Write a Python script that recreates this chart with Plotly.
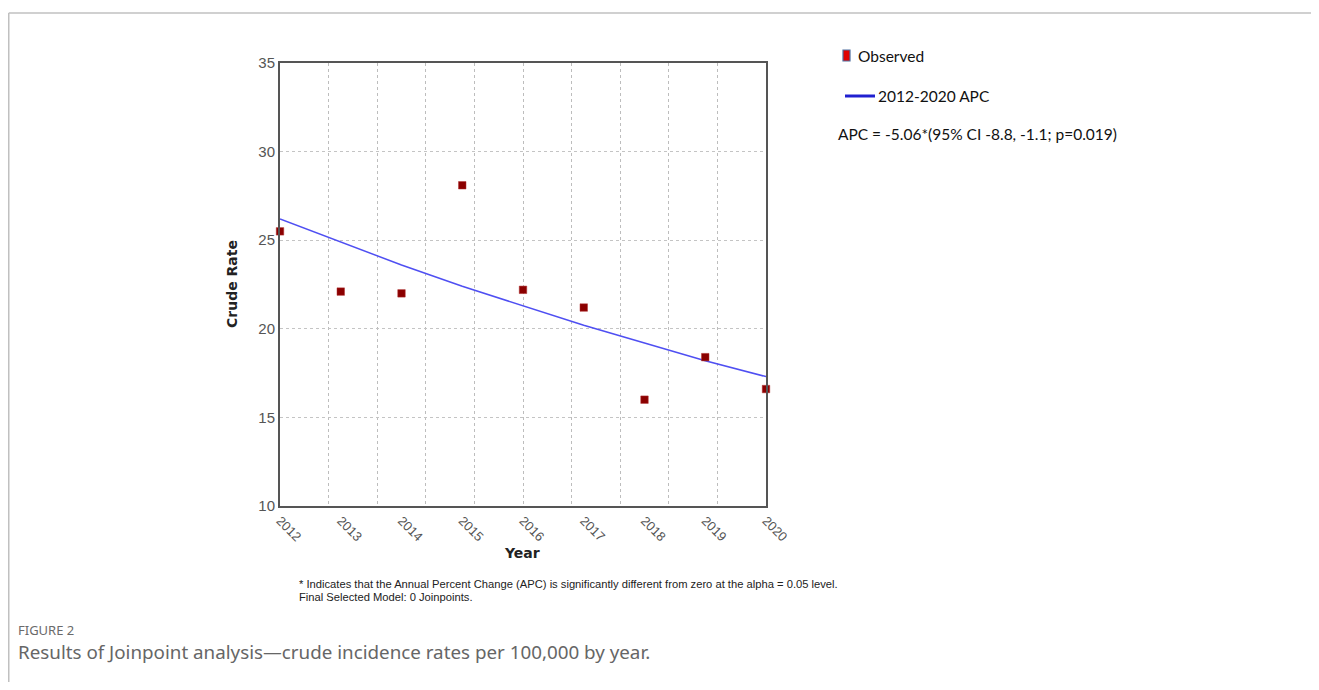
import plotly.graph_objects as go

# ---- data ----
years = [2012, 2013, 2014, 2015, 2016, 2017, 2018, 2019, 2020]
observed = [25.5, 22.1, 22.0, 28.1, 22.2, 21.2, 16.0, 18.4, 16.6]
apc_fit = [26.2, 24.9, 23.6, 22.4, 21.3, 20.2, 19.2, 18.2, 17.3]
y_ticks = [10, 15, 20, 25, 30, 35]
legend_obs = "Observed"
legend_fit = "2012-2020 APC"
apc_text = "APC = -5.06*(95% CI -8.8, -1.1; p=0.019)"
footnote_1 = "* Indicates that the Annual Percent Change (APC) is significantly different from zero at the alpha = 0.05 level."
footnote_2 = "Final Selected Model: 0 Joinpoints."
fig_label = "FIGURE 2"
caption = "Results of Joinpoint analysis\u2014crude incidence rates per 100,000 by year."

OFF = 8                      # browser default body margin
W, H = 1319 - 2 * OFF, 690 - 2 * OFF
L, R, T, B = 280, 766, 63, 506  # plot area in screen pixels
pw, ph = R - L, B - T

def px(x):
    return (x - L) / pw

def py(y):
    return (B - y) / ph

fig = go.Figure()
fig.add_trace(go.Scatter(
    x=years, y=apc_fit, mode="lines",
    line=dict(color="#4f4ff2", width=1.5),
    showlegend=False, cliponaxis=False, hoverinfo="skip"))
fig.add_trace(go.Scatter(
    x=years, y=observed, mode="markers",
    marker=dict(symbol="square", size=7.5, color="#8b0000",
                line=dict(color="#b03030", width=0.5)),
    showlegend=False, cliponaxis=False))

arial = "Liberation Sans, Arial, sans-serif"
dv = "DejaVu Sans, Verdana, sans-serif"
fig.update_layout(
    width=W, height=H,
    margin=dict(l=L - OFF, r=W - (R - OFF), t=T - OFF, b=H - (B - OFF), pad=0),
    paper_bgcolor="white", plot_bgcolor="white",
    showlegend=False,
    xaxis=dict(
        range=[years[0], years[-1]],
        tickmode="array", tickvals=years, ticktext=[str(y) for y in years],
        tickangle=45, tickfont=dict(family=arial, size=13, color="#555"),
        showgrid=False, zeroline=False, ticks="",
        showline=True, linecolor="#555", linewidth=2, mirror=True,
        minor=dict(tick0=years[0], dtick=0.8, showgrid=True,
                   gridcolor="#bdbdbd", griddash="dot", gridwidth=1, ticks=""),
    ),
    yaxis=dict(
        range=[10, 35], tickmode="array", tickvals=y_ticks,
        tickfont=dict(family=arial, size=15, color="#555"),
        showgrid=True, gridcolor="#c4c4c4", griddash="dot", gridwidth=1,
        zeroline=False, ticks="", ticklen=0,
        showline=True, linecolor="#555", linewidth=2, mirror=True,
    ),
)

def note(x, y, text, font, xanchor="left", angle=0):
    fig.add_annotation(xref="paper", yref="paper", x=px(x), y=py(y), text=text,
                       showarrow=False, xanchor=xanchor, yanchor="middle",
                       textangle=angle, font=font)

# axis titles
note(232, 284, "<b>Crude Rate</b>", dict(family=dv, size=14, color="#222"),
     xanchor="center", angle=-90)
note(522, 553, "<b>Year</b>", dict(family=dv, size=14, color="#222"), xanchor="center")

# legend (manual)
lg = "Lato, Open Sans, sans-serif"
fig.add_shape(type="rect", xref="paper", yref="paper",
              x0=px(843), x1=px(850), y0=py(61), y1=py(50),
              fillcolor="#e00000", line=dict(color="#4f6f9f", width=1.2))
note(856, 56, legend_obs, dict(family=lg, size=15.5, color="#111"))
fig.add_shape(type="line", xref="paper", yref="paper",
              x0=px(845), x1=px(875), y0=py(96), y1=py(96),
              line=dict(color="#2020d0", width=3))
note(876, 96, legend_fit, dict(family=lg, size=15.5, color="#111"))
note(836, 134, apc_text, dict(family=lg, size=15.5, color="#111"))

# footnotes
note(297, 584, footnote_1, dict(family=arial, size=11.2, color="#222"))
note(297, 597, footnote_2, dict(family=arial, size=11.2, color="#222"))

# caption
cf = "Noto Sans, Lato, sans-serif"
note(16, 630, fig_label, dict(family=cf, size=13, color="#6a6a6a"))
note(16, 652, caption, dict(family=cf, size=18.8, color="#666"))

# outer frame (top and left edges)
fig.add_shape(type="line", xref="paper", yref="paper",
              x0=px(OFF + 0.75), x1=px(W + OFF + 20), y0=py(13), y1=py(13),
              line=dict(color="#c0c0c0", width=1.5))
fig.add_shape(type="line", xref="paper", yref="paper",
              x0=px(OFF + 0.75), x1=px(OFF + 0.75), y0=py(13), y1=py(H + OFF + 20),
              line=dict(color="#c0c0c0", width=1.5))

fig.write_html("out.html")
